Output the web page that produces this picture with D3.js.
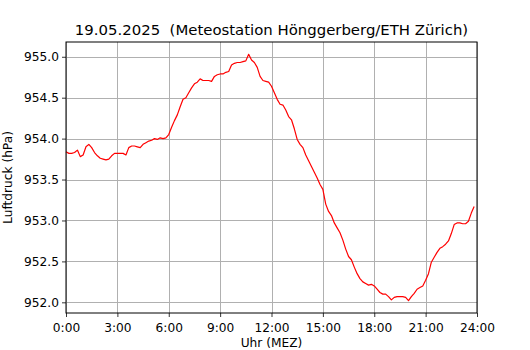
<!DOCTYPE html>
<html>
<head>
<meta charset="utf-8">
<script src="https://cdn.jsdelivr.net/npm/d3@7"></script>
<style>
body { margin: 0; background: #fff; }
svg { display: block; font-family: "DejaVu Sans", sans-serif; }
</style>
</head>
<body>
<div id="viz"></div>
<script>
var w = 530, h = 350;
var margin = { top: 42, right: 53, bottom: 37, left: 66 };

var title = "19.05.2025  (Meteostation Hönggerberg/ETH Zürich)";
var xLabel = "Uhr (MEZ)";
var yLabel = "Luftdruck (hPa)";

// 10-Minuten-Werte ab 0:00
var stepMinutes = 10;
var pressure = [
    953.84, 953.82, 953.82, 953.83, 953.86, 953.78, 953.80, 953.90, 953.93, 953.89,
    953.83, 953.79, 953.76, 953.75, 953.74, 953.75, 953.79, 953.82, 953.82, 953.82,
    953.82, 953.80, 953.89, 953.91, 953.91, 953.90, 953.89, 953.93, 953.95, 953.97,
    953.98, 954.00, 953.99, 954.01, 954.00, 954.01, 954.05, 954.14, 954.22, 954.29,
    954.39, 954.48, 954.50, 954.56, 954.62, 954.67, 954.69, 954.73, 954.71, 954.71,
    954.71, 954.70, 954.76, 954.78, 954.79, 954.79, 954.81, 954.82, 954.90, 954.92,
    954.93, 954.93, 954.94, 954.95, 955.03, 954.96, 954.93, 954.87, 954.76, 954.71,
    954.70, 954.69, 954.64, 954.56, 954.48, 954.42, 954.41, 954.35, 954.27, 954.23,
    954.12, 953.99, 953.93, 953.89, 953.80, 953.73, 953.66, 953.59, 953.52, 953.44,
    953.38, 953.20, 953.11, 953.06, 952.97, 952.91, 952.85, 952.76, 952.65, 952.56,
    952.52, 952.43, 952.35, 952.29, 952.25, 952.23, 952.21, 952.22, 952.20, 952.16,
    952.12, 952.10, 952.10, 952.07, 952.03, 952.06, 952.07, 952.07, 952.07, 952.06,
    952.02, 952.07, 952.11, 952.16, 952.18, 952.20, 952.27, 952.35, 952.49, 952.55,
    952.61, 952.66, 952.68, 952.71, 952.75, 952.84, 952.95, 952.97, 952.97, 952.96,
    952.96, 952.99, 953.09, 953.17
];

var xTicks = [0, 3, 6, 9, 12, 15, 18, 21, 24];
var xTickLabels = ["0:00", "3:00", "6:00", "9:00", "12:00", "15:00", "18:00", "21:00", "24:00"];
var yTicks = [952.0, 952.5, 953.0, 953.5, 954.0, 954.5, 955.0];

var data = pressure.map(function(v, i) { return { t: i * stepMinutes / 60, v: v }; });

var iw = w - margin.left - margin.right;
var ih = h - margin.top - margin.bottom;

var ext = d3.extent(pressure);
var pad = (ext[1] - ext[0]) * 0.05;

var x = d3.scaleLinear().domain([0, 24]).range([0, iw]);
var y = d3.scaleLinear().domain([ext[0] - pad, ext[1] + pad]).range([ih, 0]);

var svg = d3.select("#viz")
    .append("svg")
    .attr("width", w)
    .attr("height", h);

var g = svg.append("g")
    .attr("transform", "translate(" + margin.left + "," + margin.top + ")");

// Gitter
g.append("g")
    .selectAll("line")
    .data(xTicks)
    .enter()
    .append("line")
    .attr("x1", function(d) { return Math.round(x(d)) + 0.5; })
    .attr("x2", function(d) { return Math.round(x(d)) + 0.5; })
    .attr("y1", 0)
    .attr("y2", ih)
    .attr("stroke", "#b0b0b0")
    .attr("stroke-width", 1);

g.append("g")
    .selectAll("line")
    .data(yTicks)
    .enter()
    .append("line")
    .attr("x1", 0)
    .attr("x2", iw)
    .attr("y1", function(d) { return Math.round(y(d)) + 0.5; })
    .attr("y2", function(d) { return Math.round(y(d)) + 0.5; })
    .attr("stroke", "#b0b0b0")
    .attr("stroke-width", 1);

// Kurve
var line = d3.line()
    .x(function(d) { return x(d.t); })
    .y(function(d) { return y(d.v); });

g.append("path")
    .datum(data)
    .attr("fill", "none")
    .attr("stroke", "#ff0000")
    .attr("stroke-width", 1.2)
    .attr("stroke-linejoin", "round")
    .attr("d", line);

// Achsen
var xAxis = d3.axisBottom(x)
    .tickValues(xTicks)
    .tickFormat(function(d, i) { return xTickLabels[i]; })
    .tickSize(4)
    .tickPadding(6);

var yAxis = d3.axisLeft(y)
    .tickValues(yTicks)
    .tickFormat(d3.format(".1f"))
    .tickSize(4)
    .tickPadding(3);

var gx = g.append("g")
    .attr("transform", "translate(0," + ih + ")")
    .call(xAxis);

var gy = g.append("g")
    .call(yAxis);

[gx, gy].forEach(function(a) {
    a.select(".domain").remove();
    a.selectAll("text")
        .attr("font-family", "DejaVu Sans")
        .attr("font-size", "12.2px")
        .attr("fill", "#000");
    a.selectAll("line").attr("stroke", "#000").attr("stroke-width", 0.8);
});

g.append("rect")
    .attr("x", 0)
    .attr("y", 0)
    .attr("width", iw)
    .attr("height", ih)
    .attr("fill", "none")
    .attr("stroke", "#000")
    .attr("stroke-width", 1);

// Beschriftung
svg.append("text")
    .attr("x", margin.left + iw / 2)
    .attr("y", 35)
    .attr("text-anchor", "middle")
    .attr("font-size", "14.9px")
    .attr("fill", "#000")
    .style("white-space", "pre")
    .text(title);

svg.append("text")
    .attr("x", margin.left + iw / 2)
    .attr("y", 347)
    .attr("text-anchor", "middle")
    .attr("font-size", "12.2px")
    .attr("fill", "#000")
    .text(xLabel);

svg.append("text")
    .attr("transform", "translate(12," + (margin.top + ih / 2) + ") rotate(-90)")
    .attr("text-anchor", "middle")
    .attr("font-size", "12.2px")
    .attr("fill", "#000")
    .text(yLabel);
</script>
</body>
</html>
